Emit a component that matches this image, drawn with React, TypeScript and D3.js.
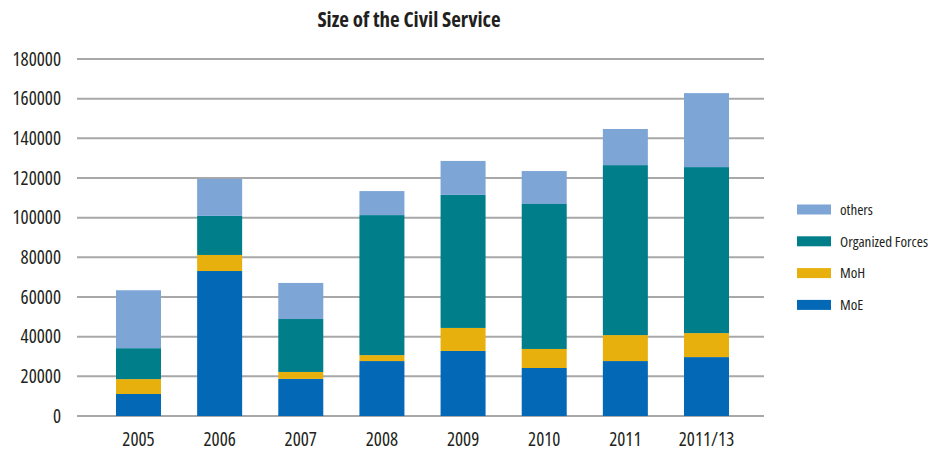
import React from "react";
import * as d3 from "d3";

const categories = ["2005", "2006", "2007", "2008", "2009", "2010", "2011", "2011/13"];
const seriesNames = ["MoE", "MoH", "Organized Forces", "others"];
const moe = [11100, 73100, 18700, 27700, 32800, 24200, 27700, 29700];
const moh = [7500, 8100, 3500, 3000, 11600, 9600, 13100, 12100];
const organizedForces = [15600, 19700, 26700, 70600, 67100, 73100, 85700, 83700];
const others = [29200, 18700, 18200, 12100, 17100, 16600, 18200, 37300];
const yTicks = [0, 20000, 40000, 60000, 80000, 100000, 120000, 140000, 160000, 180000];
const colors = ["#0369b6", "#e8b00d", "#007f8b", "#7da5d6"];
const title = "Size of the Civil Service";

const FONT = "'Open Sans', 'DejaVu Sans Condensed', sans-serif";

export default function App() {
  const W = 950, H = 452;
  const plotLeft = 77, plotRight = 764, plotTop = 59, plotBottom = 416;
  const barW = 45;

  const rows = categories.map((c, i) => ({
    cat: c,
    MoE: moe[i],
    MoH: moh[i],
    "Organized Forces": organizedForces[i],
    others: others[i],
  }));
  const stacked = d3.stack<any>().keys(seriesNames)(rows);

  const x = d3.scalePoint<string>().domain(categories).range([138.5, 706.5]);
  const y = d3.scaleLinear().domain([0, 180000]).range([plotBottom, plotTop]);

  const legendItems = [...seriesNames].reverse();

  return (
    <svg width={W} height={H} style={{ position: "absolute", left: 0, top: 0, background: "#fff", fontStretch: "80%" }}
      fontFamily={FONT}>
      <text x={409} y={27} textAnchor="middle" fontSize={21} fontWeight="bold" fill="#231f20">{title}</text>
      {yTicks.map((t) => (
        <g key={t}>
          <line x1={plotLeft} x2={plotRight} y1={y(t)} y2={y(t)} stroke="#a8a8a8" strokeWidth={2} />
          <text x={61} y={y(t)} dy="0.35em" textAnchor="end" fontSize={19} fill="#231f20">{t}</text>
        </g>
      ))}
      {stacked.map((s, si) => (
        <g key={s.key} fill={colors[si]}>
          {s.map((d, i) => (
            <rect key={i} x={(x(categories[i]) as number) - barW / 2} y={y(d[1])}
              width={barW} height={y(d[0]) - y(d[1])} />
          ))}
        </g>
      ))}
      {categories.map((c) => (
        <text key={c} x={x(c)} y={446} textAnchor="middle" fontSize={19} fill="#231f20">{c}</text>
      ))}
      {legendItems.map((name, i) => {
        const cy = 209.5 + i * 31.8;
        const ci = seriesNames.indexOf(name);
        return (
          <g key={name}>
            <rect x={797} y={cy - 5} width={34} height={10} fill={colors[ci]} />
            <text x={840} y={cy} dy="0.35em" fontSize={15} fill="#231f20">{name}</text>
          </g>
        );
      })}
    </svg>
  );
}
